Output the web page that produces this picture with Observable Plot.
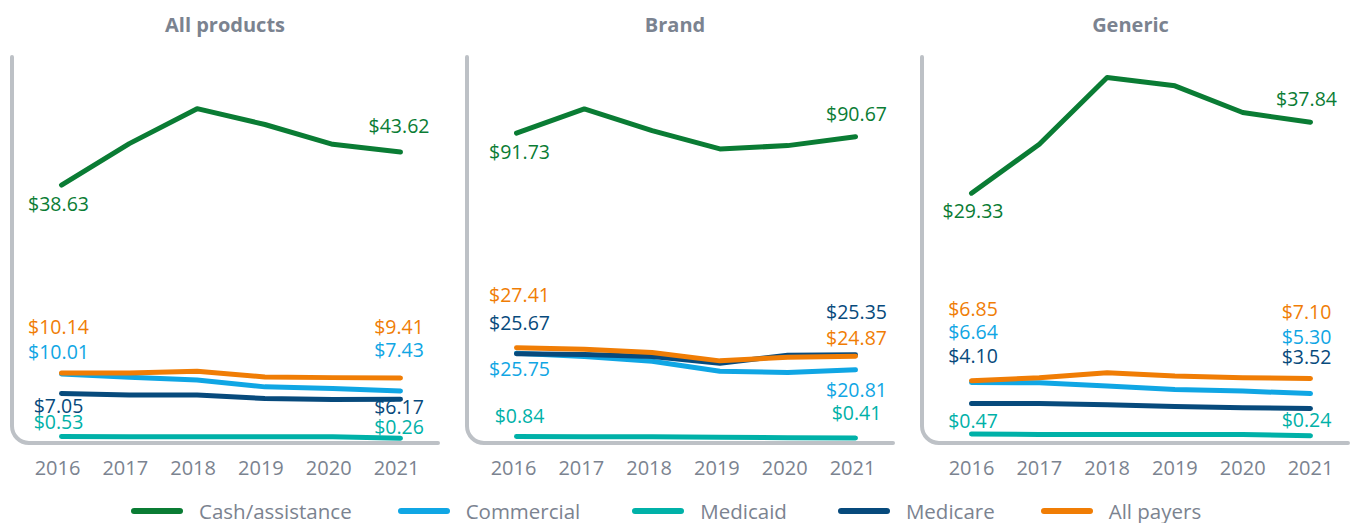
<!DOCTYPE html>
<html><head><meta charset="utf-8">
<script src="https://cdn.jsdelivr.net/npm/d3@7"></script>
<script src="https://cdn.jsdelivr.net/npm/@observablehq/plot@0.6"></script>
<style>
body{margin:0;background:#fff;font-family:"Open Sans",sans-serif;}
#wrap{width:1351px;height:523px;position:relative;background:#fff;}
#panels{display:flex;}
.panel{flex:none;overflow:visible;}
.title{height:45px;box-sizing:border-box;padding-top:15px;line-height:20px;font-size:20px;font-weight:700;color:#7b8390;text-align:center;}
#legend{display:flex;align-items:center;padding-left:131px;margin-top:12px;height:28px;}
.sw{width:52px;height:6px;border-radius:3px;margin-right:16px;flex:none;}
.lt{font-size:20.5px;color:#7b8390;line-height:28px;white-space:nowrap;}
</style></head><body><div id="wrap"><div id="panels"></div><div id="legend"></div></div>
<script>
// ---- data ----
const years = [2016, 2017, 2018, 2019, 2020, 2021];
const panelNames = ["All products", "Brand", "Generic"];
const seriesNames = ["Cash/assistance", "Commercial", "Medicaid", "Medicare", "All payers"];

// All products
const allCash       = [38.63, 44.9, 50.2, 47.8, 44.8, 43.62];
const allCommercial = [10.01, 9.5, 9.1, 8.05, 7.8, 7.43];
const allMedicaid   = [0.53, 0.5, 0.5, 0.5, 0.48, 0.26];
const allMedicare   = [7.05, 6.8, 6.8, 6.3, 6.15, 6.17];
const allAllPayers  = [10.14, 10.14, 10.4, 9.55, 9.45, 9.41];
// Brand
const brandCash       = [91.73, 99.0, 92.5, 87.0, 88.0, 90.67];
const brandCommercial = [25.75, 24.8, 23.4, 20.4, 20.0, 20.81];
const brandMedicaid   = [0.84, 0.8, 0.75, 0.6, 0.5, 0.41];
const brandMedicare   = [25.67, 25.4, 24.8, 22.8, 25.2, 25.35];
const brandAllPayers  = [27.41, 27.0, 26.0, 23.5, 24.6, 24.87];
// Generic
const genCash       = [29.33, 35.2, 43.2, 42.2, 39.0, 37.84];
const genCommercial = [6.64, 6.6, 6.2, 5.8, 5.6, 5.30];
const genMedicaid   = [0.47, 0.4, 0.4, 0.4, 0.4, 0.24];
const genMedicare   = [4.10, 4.10, 3.95, 3.75, 3.6, 3.52];
const genAllPayers  = [6.85, 7.2, 7.8, 7.4, 7.2, 7.10];

const panelSeries = [
  [allCash, allCommercial, allMedicaid, allMedicare, allAllPayers],
  [brandCash, brandCommercial, brandMedicaid, brandMedicare, brandAllPayers],
  [genCash, genCommercial, genMedicaid, genMedicare, genAllPayers]
];

// ---- styling / layout ----
const colors = ["#0a7c34", "#10a6e4", "#00b1a8", "#074a7c", "#f07d05"];
const textGray = "#7b8390";
const panelWidths = [455, 455, 441];
const titleWidths = [450, 440, 441];
const yScaleTop = [57.95, 114.4, 45.6];
const yBottomPx = [394.5, 393.8, 392.3];
const tickDx = [-4, -3, 0];
// label offsets (px) for [first, last] year
const labelDx = [[-3, -1.5], [3, 1], [1.5, -4]];
const labelDy = [
  [[19.5, -25], [-21, -40], [-13.3, -11], [13.7, 8.5], [-45, -49.7]],
  [[20, -22], [16, 20.7], [-19.3, -24], [-30, -41.5], [-52, -18]],
  [[19, -22], [-50, -56], [-11.7, -15.3], [-47, -50.6], [-71, -66]]
];
const legendGaps = [46, 52, 51, 46, 0];

function cornerFrame(w) {
  return () => {
    const x0 = 12, y0 = 12, y1 = 398, x1 = Math.min(438, w - 3), r = 17;
    return d3.create("svg:path")
      .attr("d", `M${x0},${y0}V${y1 - r}A${r},${r} 0 0 0 ${x0 + r},${y1}H${x1}`)
      .attr("fill", "none")
      .attr("stroke", "#bdc1c6")
      .attr("stroke-width", 4)
      .attr("stroke-linecap", "round")
      .node();
  };
}

const panelsDiv = document.getElementById("panels");
panelNames.forEach((name, p) => {
  const data = [];
  seriesNames.forEach((s, i) => {
    years.forEach((yr, j) => data.push({panel: name, series: s, year: yr, value: panelSeries[p][i][j]}));
  });
  const labels = [];
  seriesNames.forEach((s, i) => {
    const vals = panelSeries[p][i];
    labels.push({series: s, year: years[0], value: vals[0], dx: labelDx[p][0], dy: labelDy[p][i][0]});
    labels.push({series: s, year: years[years.length - 1], value: vals[vals.length - 1], dx: labelDx[p][1], dy: labelDy[p][i][1]});
  });
  const w = panelWidths[p];
  const chart = Plot.plot({
    width: w,
    height: 440,
    marginTop: 12,
    marginBottom: 46,
    marginLeft: 61,
    marginRight: w - 400,
    style: {fontFamily: "'Open Sans', sans-serif", fontSize: "20px", color: textGray, background: "white", overflow: "visible"},
    x: {type: "linear", domain: [2016, 2021], range: [61, 400], axis: null},
    y: {domain: [0, yScaleTop[p]], range: [yBottomPx[p], 12], axis: null},
    color: {domain: seriesNames, range: colors},
    marks: [
      cornerFrame(w),
      Plot.text(years, {x: d => d, text: d => String(d), frameAnchor: "bottom", dy: 29, dx: tickDx[p],
        fill: textGray, fontSize: 20, textAnchor: "middle", lineAnchor: "middle"}),
      Plot.line(data, {x: "year", y: "value", z: "series", stroke: "series", strokeWidth: 5, strokeLinecap: "round", strokeLinejoin: "round"}),
      ...labels.map(d => Plot.text([d], {
        x: "year", y: "value", fill: "series", dx: d.dx, dy: d.dy,
        text: v => "$" + v.value.toFixed(2),
        fontSize: 19.5, textAnchor: "middle", lineAnchor: "middle"
      }))
    ]
  });
  const div = document.createElement("div");
  div.className = "panel";
  div.style.width = w + "px";
  const t = document.createElement("div");
  t.className = "title";
  t.style.width = titleWidths[p] + "px";
  t.textContent = name;
  div.appendChild(t);
  div.appendChild(chart);
  panelsDiv.appendChild(div);
});

const legend = document.getElementById("legend");
seriesNames.forEach((s, i) => {
  const sw = document.createElement("div");
  sw.className = "sw";
  sw.style.background = colors[i];
  const lt = document.createElement("div");
  lt.className = "lt";
  lt.style.marginRight = legendGaps[i] + "px";
  lt.textContent = s;
  legend.appendChild(sw);
  legend.appendChild(lt);
});
</script></body></html>
